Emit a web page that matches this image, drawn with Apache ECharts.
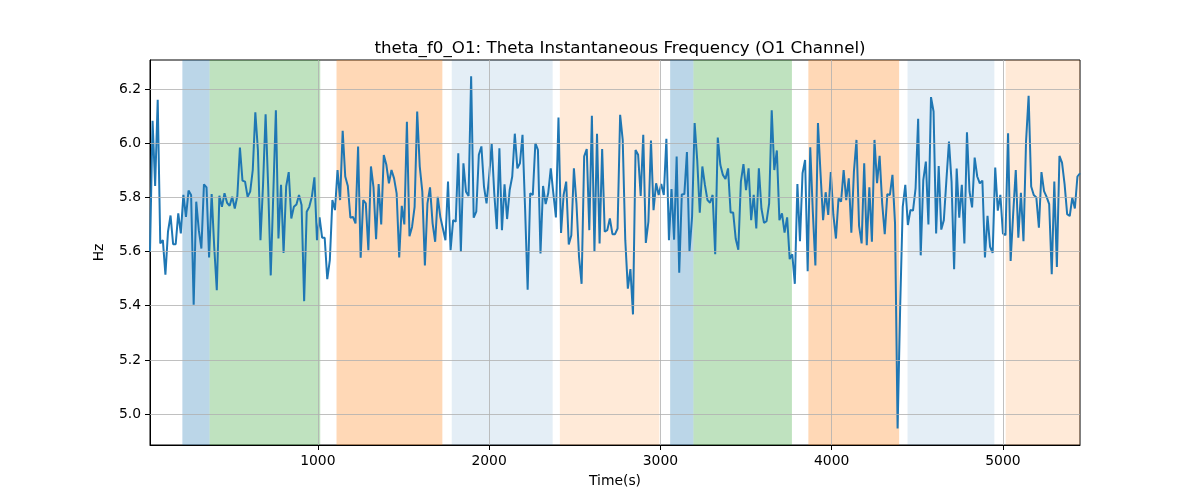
<!DOCTYPE html>
<html>
<head>
<meta charset="utf-8">
<script src="https://cdn.jsdelivr.net/npm/echarts@6/dist/echarts.min.js"></script>
<style>
html,body{margin:0;padding:0;background:#fff;}
#chart{width:1200px;height:500px;}
</style>
</head>
<body>
<div id="chart"></div>
<script>
// ---- data ----
const title = 'theta_f0_O1: Theta Instantaneous Frequency (O1 Channel)';
const timeStart = 20;   // s, first sample
const timeStep = 15;    // s between samples
const freqValues = [
 5.60,6.083,5.842,6.160,5.630,5.642,5.515,5.673,5.733,5.627,5.627,5.741,5.667,5.809,5.728,5.825,5.809,5.404,5.784,5.679,
 5.611,5.848,5.837,5.578,5.812,5.617,5.457,5.806,5.765,5.815,5.780,5.769,5.802,5.759,5.805,5.984,5.862,5.858,5.802,5.821,
 5.901,6.114,5.975,5.642,5.846,6.107,5.840,5.512,5.815,6.121,5.648,5.846,5.595,5.840,5.893,5.722,5.765,5.774,
 5.809,5.772,5.417,5.747,5.765,5.802,5.874,5.642,5.726,5.651,5.651,5.498,5.568,5.790,5.753,5.901,5.790,6.046,5.877,5.842,
 5.725,5.728,5.704,5.988,5.577,5.790,5.778,5.605,5.914,5.837,5.646,5.849,5.700,5.956,5.920,5.852,5.901,5.870,5.815,5.578,
 5.769,5.700,6.079,5.657,5.691,5.765,6.117,5.914,5.821,5.549,5.778,5.837,5.704,5.636,5.802,5.728,5.685,5.642,5.858,
 5.605,5.716,5.710,5.963,5.599,5.926,5.821,5.805,6.247,5.725,5.747,5.957,5.988,5.840,5.778,5.877,5.998,5.815,5.683,5.981,
 5.679,5.848,5.720,5.827,5.877,6.035,5.907,5.926,6.031,5.759,5.459,5.815,5.809,6.000,5.975,5.593,5.842,5.775,5.815,5.907,
 5.815,5.726,6.095,5.669,5.809,5.858,5.626,5.660,5.907,5.778,5.580,5.481,5.951,5.978,5.679,6.101,5.601,6.035,
 5.630,5.978,5.673,5.679,5.722,5.664,5.664,5.685,6.105,6.012,5.642,5.463,5.535,5.368,5.975,5.957,5.805,6.031,5.632,5.710,
 6.010,5.753,5.852,5.809,5.849,5.809,6.016,5.642,5.831,5.644,5.951,5.522,5.811,5.812,5.967,5.601,5.728,6.074,5.938,5.743,
 5.914,5.846,5.790,5.780,5.809,5.590,6.021,5.920,5.883,5.868,5.907,5.744,5.744,5.646,5.607,5.858,5.923,5.827,5.907,
 5.716,5.809,5.685,5.907,5.759,5.706,5.712,5.778,6.121,5.901,5.973,5.716,5.741,5.670,5.726,5.572,5.590,5.481,5.849,5.638,
 5.889,5.938,5.527,5.985,5.747,5.549,6.074,5.889,5.716,5.819,5.735,5.893,5.735,5.648,5.796,5.784,5.901,5.790,5.870,5.670,
 5.895,6.012,5.695,5.630,5.926,5.623,5.837,5.636,6.012,5.852,5.953,5.778,5.664,5.812,5.809,5.883,5.704,4.947,
 5.395,5.765,5.846,5.698,5.753,5.751,5.833,6.090,5.586,5.864,5.932,5.700,6.170,6.117,5.667,5.916,5.681,5.716,5.864,6.006,
 5.858,5.535,5.906,5.725,5.846,5.630,6.040,5.821,5.763,5.947,5.877,5.852,5.862,5.578,5.732,5.617,5.595,5.910,5.751,5.809,
 5.667,5.660,6.037,5.565,5.741,5.901,5.651,5.817,5.638,6.006,6.175,5.840,5.809,5.800,5.688,5.893,5.823,5.802,5.775,5.516,
 5.858,5.543,5.953,5.928,5.849,5.738,5.731,5.799,5.759,5.877,5.889
];
// shaded segments: [start, end, kind]
const spanStarts = [209, 368, 1109, 1782, 2413, 3057, 3193, 3864, 4443, 5016];
const spanEnds   = [368, 1014, 1727, 2371, 2994, 3193, 3768, 4394, 4950, 5450];
const spanKinds  = ['blue','green','orange','lightblue','lightorange','blue','green','orange','lightblue','lightorange'];
const xTicks = [1000, 2000, 3000, 4000, 5000];
const yTicks = [5.0, 5.2, 5.4, 5.6, 5.8, 6.0, 6.2];
const xRange = [20, 5450];
const yRange = [4.886, 6.307];

// ---- styles ----
const kindColors = {
  blue: 'rgba(31,119,180,0.30)',
  green: 'rgba(44,160,44,0.30)',
  orange: 'rgba(255,127,14,0.30)',
  lightblue: 'rgba(31,119,180,0.12)',
  lightorange: 'rgba(255,127,14,0.16)'
};
const FONT = 'DejaVu Sans';
const lineData = freqValues.map((v, i) => [timeStart + i * timeStep, v]);
const areas = spanStarts.map((s, i) => [
  { xAxis: s, itemStyle: { color: kindColors[spanKinds[i]] } },
  { xAxis: spanEnds[i] }
]);
const gridLines = xTicks.map(v => ({ xAxis: v })).concat(yTicks.map(v => ({ yAxis: v })));

const chart = echarts.init(document.getElementById('chart'), null, { renderer: 'canvas' });
chart.setOption({
  animation: false,
  backgroundColor: '#fff',
  title: {
    text: title, left: 615, top: 35, textAlign: 'center',
    textStyle: { fontFamily: FONT, fontSize: 16.7, fontWeight: 'normal', color: '#000' }
  },
  grid: { left: 150, right: 120, top: 60, bottom: 55, show: true, borderColor: '#000', borderWidth: 1, backgroundColor: 'transparent' },
  xAxis: {
    type: 'value', min: xRange[0], max: xRange[1],
    name: 'Time(s)', nameLocation: 'middle', nameGap: 29,
    nameTextStyle: { fontFamily: FONT, fontSize: 13.9, color: '#000' },
    axisLine: { show: true, onZero: false, lineStyle: { color: '#000', width: 1 } },
    axisTick: { show: true, length: 5, lineStyle: { color: '#000' }, customValues: xTicks },
    axisLabel: { fontFamily: FONT, fontSize: 13.9, color: '#000', margin: 9, customValues: xTicks, formatter: v => String(v) },
    splitLine: { show: false }
  },
  yAxis: {
    type: 'value', min: yRange[0], max: yRange[1],
    name: 'Hz', nameLocation: 'middle', nameGap: 44,
    nameTextStyle: { fontFamily: FONT, fontSize: 13.9, color: '#000' },
    axisLine: { show: true, onZero: false, lineStyle: { color: '#000', width: 1 } },
    axisTick: { show: true, length: 5, lineStyle: { color: '#000' }, customValues: yTicks },
    axisLabel: { fontFamily: FONT, fontSize: 13.9, color: '#000', margin: 9, customValues: yTicks, formatter: v => v.toFixed(1) },
    splitLine: { show: false }
  },
  series: [
    {
      type: 'line', data: [], z: 1, silent: true,
      markArea: { silent: true, data: areas }
    },
    {
      type: 'line', data: [], z: 2, silent: true,
      markLine: {
        silent: true, symbol: 'none', label: { show: false },
        lineStyle: { color: '#b0b0b0', width: 0.8, type: 'solid' },
        data: gridLines
      }
    },
    {
      type: 'line', data: lineData, z: 3,
      showSymbol: false, symbol: 'none',
      lineStyle: { color: '#1f77b4', width: 2 },
      clip: true
    }
  ]
});
</script>
</body>
</html>
